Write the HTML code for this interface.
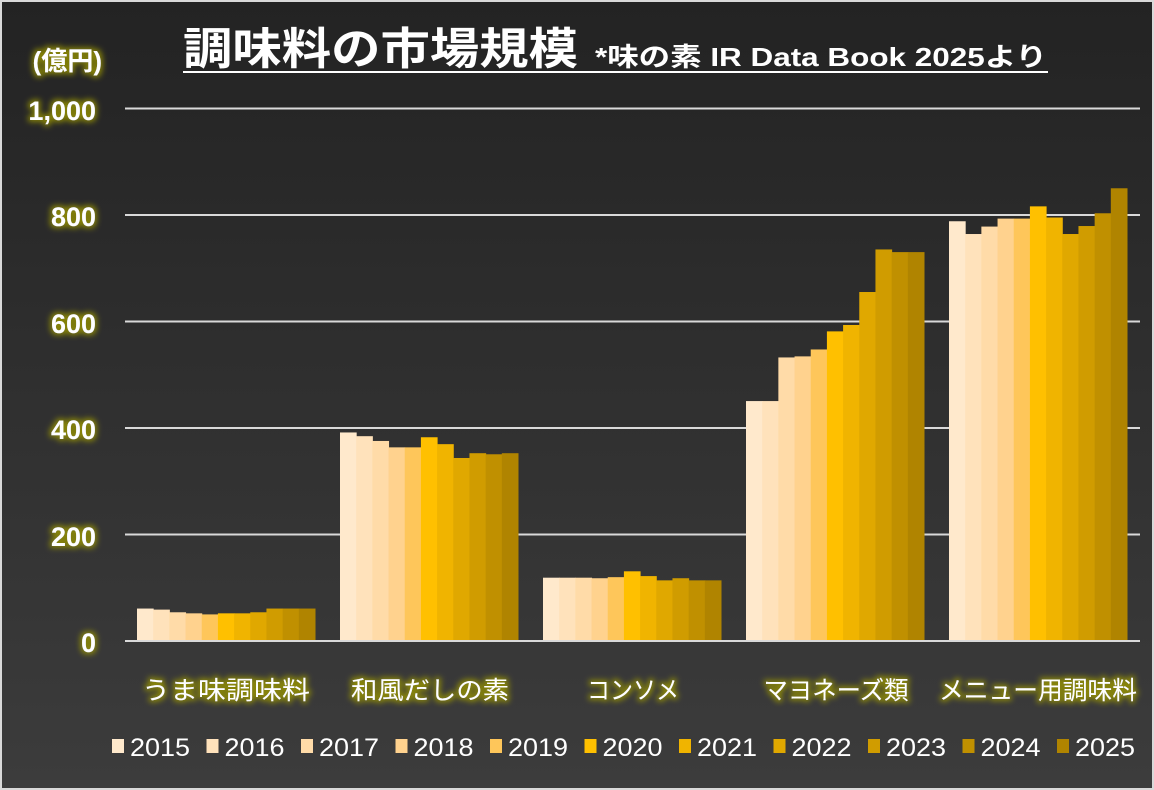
<!DOCTYPE html>
<html><head><meta charset="utf-8">
<style>
html,body{margin:0;padding:0;background:#fff}
svg{display:block}
text{font-family:"Liberation Sans","Noto Sans CJK JP",sans-serif}
</style></head><body>
<svg width="1154" height="790" viewBox="0 0 1154 790" xmlns="http://www.w3.org/2000/svg">
<defs>
<linearGradient id="bg" x1="0" y1="0" x2="0" y2="1">
<stop offset="0" stop-color="#232323"/><stop offset="1" stop-color="#3c3c3c"/>
</linearGradient>
<filter id="glow" x="-30%" y="-50%" width="160%" height="200%">
<feMorphology in="SourceAlpha" operator="dilate" radius="2" result="d"/>
<feGaussianBlur in="d" stdDeviation="3" result="b"/>
<feFlood flood-color="#9a9600" flood-opacity="0.8"/>
<feComposite in2="b" operator="in" result="g"/>
<feMerge><feMergeNode in="g"/><feMergeNode in="SourceGraphic"/></feMerge>
</filter>
</defs>
<rect x="0" y="0" width="1154" height="790" fill="#d9d9d9"/>
<rect x="2" y="2" width="1150" height="786" fill="url(#bg)"/>
<g stroke="#d9d9d9" stroke-width="2">
<line x1="125" y1="108.5" x2="1140" y2="108.5"/>
<line x1="125" y1="215" x2="1140" y2="215"/>
<line x1="125" y1="321.5" x2="1140" y2="321.5"/>
<line x1="125" y1="428" x2="1140" y2="428"/>
<line x1="125" y1="534.5" x2="1140" y2="534.5"/>
</g>
<g id="bars"></g>
<line x1="125" y1="641" x2="1140" y2="641" stroke="#d9d9d9" stroke-width="2"/>
<g fill="#fff" font-weight="bold" font-size="27" text-anchor="end" filter="url(#glow)">
<text x="96" y="120">1,000</text>
<text x="96" y="226">800</text>
<text x="96" y="333">600</text>
<text x="96" y="439">400</text>
<text x="96" y="546">200</text>
<text x="96" y="652">0</text>
<text x="102" y="70" font-size="26">(億円)</text>
</g>
<g fill="#fff" font-size="25" text-anchor="middle" filter="url(#glow)">
<text x="226" y="699" textLength="168" lengthAdjust="spacingAndGlyphs">うま味調味料</text>
<text x="430" y="699" textLength="158" lengthAdjust="spacingAndGlyphs">和風だしの素</text>
<text x="633" y="699" textLength="92" lengthAdjust="spacingAndGlyphs">コンソメ</text>
<text x="836" y="699" textLength="145" lengthAdjust="spacingAndGlyphs">マヨネーズ類</text>
<text x="1038" y="699" textLength="198" lengthAdjust="spacingAndGlyphs">メニュー用調味料</text>
</g>
<text x="183" y="64" fill="#fff" font-size="44" font-weight="bold" textLength="395" lengthAdjust="spacingAndGlyphs">調味料の市場規模</text>
<text x="595" y="66" fill="#fff" font-size="26" font-weight="bold" textLength="452" lengthAdjust="spacingAndGlyphs">*味の素 IR Data Book 2025より</text>
<line x1="183" y1="72" x2="1048" y2="72" stroke="#fff" stroke-width="2"/>
<g id="legend" font-size="25" fill="#fff"></g>
<script>
var cols=["#FFE9CC","#FFE2BB","#FFDBA8","#FFD28E","#FEC65A","#FFC000","#F0B400","#E0A800","#D09C00","#C09000","#B08400"];
var data=[[61,59,54,52,50,52,52,54,61,61,61],[392,385,376,364,364,383,370,344,353,351,353],[119,119,119,118,120,131,122,114,118,114,114],[451,451,533,535,548,582,594,656,736,731,731],[789,765,779,794,794,817,796,765,780,804,851]];
var ns="http://www.w3.org/2000/svg",g=document.getElementById("bars"),L=document.getElementById("legend");
var bw=178/11;
for(var c=0;c<5;c++){var x0=137+c*203;for(var i=0;i<11;i++){var h=data[c][i]*0.532;var r=document.createElementNS(ns,"rect");r.setAttribute("x",x0+i*bw);r.setAttribute("width",bw+0.5);r.setAttribute("y",641-h);r.setAttribute("height",h);r.setAttribute("fill",cols[i]);g.appendChild(r);}}
for(var i=0;i<11;i++){var x=112+i*94.5;var r=document.createElementNS(ns,"rect");r.setAttribute("x",x);r.setAttribute("y",739);r.setAttribute("width",12);r.setAttribute("height",14);r.setAttribute("fill",cols[i]);L.appendChild(r);var t=document.createElementNS(ns,"text");t.setAttribute("x",x+18);t.setAttribute("y",756);t.setAttribute("textLength","60");t.setAttribute("lengthAdjust","spacingAndGlyphs");t.textContent=2015+i;L.appendChild(t);}
</script>
</svg>
</body></html>
